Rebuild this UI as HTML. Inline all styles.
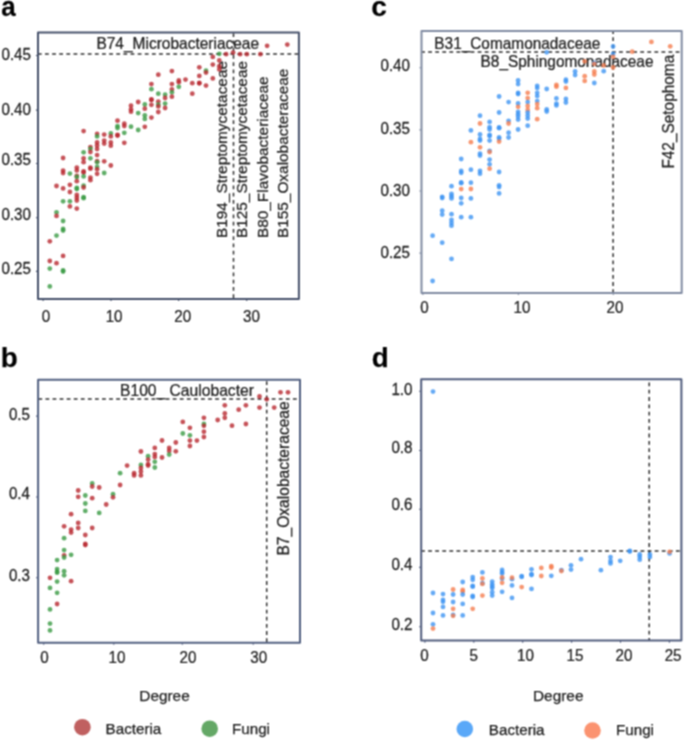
<!DOCTYPE html>
<html><head><meta charset="utf-8"><style>
html,body{margin:0;padding:0;background:#fff;}
body{width:685px;height:747px;overflow:hidden;}
svg{display:block;font-family:"Liberation Sans", sans-serif;}
text{stroke:#1c1c1c;stroke-width:0.25px;}
</style></head><body>
<svg width="685" height="747" viewBox="0 0 685 747">
<defs><filter id="bl" color-interpolation-filters="sRGB" x="0" y="0" width="685" height="747" filterUnits="userSpaceOnUse"><feConvolveMatrix order="3" kernelMatrix="1 2 1 2 4 2 1 2 1" divisor="16" edgeMode="duplicate"/></filter></defs>
<rect width="685" height="747" fill="#fff"/>
<g filter="url(#bl)">
<rect width="685" height="747" fill="#fff"/>
<path d="M38.00 54.0H41.65M44.98 54.0H48.78M52.11 54.0H55.91M59.24 54.0H63.04M66.37 54.0H70.17M73.50 54.0H77.30M80.63 54.0H84.43M87.76 54.0H91.56M94.89 54.0H98.69M102.02 54.0H105.82M109.15 54.0H112.95M116.28 54.0H120.08M123.41 54.0H127.21M130.54 54.0H134.34M137.67 54.0H141.47M144.80 54.0H148.60M151.93 54.0H155.73M159.06 54.0H162.86M166.19 54.0H169.99M173.32 54.0H177.12M180.45 54.0H184.25M187.58 54.0H191.38M194.71 54.0H198.51M201.84 54.0H205.64M208.97 54.0H212.77M216.10 54.0H219.90M223.23 54.0H227.03M230.36 54.0H234.16M237.49 54.0H241.29M244.62 54.0H248.42M251.75 54.0H255.55M258.88 54.0H262.68M266.01 54.0H269.81M273.14 54.0H276.94M280.27 54.0H284.07M287.40 54.0H291.20M294.53 54.0H298.33" stroke="#303030" stroke-width="1.5" fill="none"/>
<path d="M233.5 33.30V37.10M233.5 40.55V44.35M233.5 47.80V51.60M233.5 55.05V58.85M233.5 62.30V66.10M233.5 69.55V73.35M233.5 76.80V80.60M233.5 84.05V87.85M233.5 91.30V95.10M233.5 98.55V102.35M233.5 105.80V109.60M233.5 113.05V116.85M233.5 120.30V124.10M233.5 127.55V131.35M233.5 134.80V138.60M233.5 142.05V145.85M233.5 149.30V153.10M233.5 156.55V160.35M233.5 163.80V167.60M233.5 171.05V174.85M233.5 178.30V182.10M233.5 185.55V189.35M233.5 192.80V196.60M233.5 200.05V203.85M233.5 207.30V211.10M233.5 214.55V218.35M233.5 221.80V225.60M233.5 229.05V232.85M233.5 236.30V240.10M233.5 243.55V247.35M233.5 250.80V254.60M233.5 258.05V261.85M233.5 265.30V269.10M233.5 272.55V276.35M233.5 279.80V283.60M233.5 287.05V290.85M233.5 294.30V298.10" stroke="#303030" stroke-width="1.5" fill="none"/>
<path d="M38.40 398.9H42.20M45.47 398.9H49.27M52.54 398.9H56.34M59.61 398.9H63.41M66.68 398.9H70.48M73.75 398.9H77.55M80.82 398.9H84.62M87.89 398.9H91.69M94.96 398.9H98.76M102.03 398.9H105.83M109.10 398.9H112.90M116.17 398.9H119.97M123.24 398.9H127.04M130.31 398.9H134.11M137.38 398.9H141.18M144.45 398.9H148.25M151.52 398.9H155.32M158.59 398.9H162.39M165.66 398.9H169.46M172.73 398.9H176.53M179.80 398.9H183.60M186.87 398.9H190.67M193.94 398.9H197.74M201.01 398.9H204.81M208.08 398.9H211.88M215.15 398.9H218.95M222.22 398.9H226.02M229.29 398.9H233.09M236.36 398.9H240.16M243.43 398.9H247.23M250.50 398.9H254.30M257.57 398.9H261.37M264.64 398.9H268.44M271.71 398.9H275.51M278.78 398.9H282.58M285.85 398.9H289.65M292.92 398.9H296.72" stroke="#303030" stroke-width="1.5" fill="none"/>
<path d="M266.7 381.20V385.00M266.7 388.34V392.14M266.7 395.48V399.28M266.7 402.62V406.42M266.7 409.76V413.56M266.7 416.90V420.70M266.7 424.04V427.84M266.7 431.18V434.98M266.7 438.32V442.12M266.7 445.46V449.26M266.7 452.60V456.40M266.7 459.74V463.54M266.7 466.88V470.68M266.7 474.02V477.82M266.7 481.16V484.96M266.7 488.30V492.10M266.7 495.44V499.24M266.7 502.58V506.38M266.7 509.72V513.52M266.7 516.86V520.66M266.7 524.00V527.80M266.7 531.14V534.94M266.7 538.28V542.08M266.7 545.42V549.22M266.7 552.56V556.36M266.7 559.70V563.50M266.7 566.84V570.64M266.7 573.98V577.78M266.7 581.12V584.92M266.7 588.26V592.06M266.7 595.40V599.20M266.7 602.54V606.34M266.7 609.68V613.48M266.7 616.82V620.62M266.7 623.96V627.76M266.7 631.10V634.90M266.7 638.24V642.04" stroke="#303030" stroke-width="1.5" fill="none"/>
<path d="M421.50 52.0H424.90M428.17 52.0H431.97M435.24 52.0H439.04M442.31 52.0H446.11M449.38 52.0H453.18M456.45 52.0H460.25M463.52 52.0H467.32M470.59 52.0H474.39M477.66 52.0H481.46M484.73 52.0H488.53M491.80 52.0H495.60M498.87 52.0H502.67M505.94 52.0H509.74M513.01 52.0H516.81M520.08 52.0H523.88M527.15 52.0H530.95M534.22 52.0H538.02M541.29 52.0H545.09M548.36 52.0H552.16M555.43 52.0H559.23M562.50 52.0H566.30M569.57 52.0H573.37M576.64 52.0H580.44M583.71 52.0H587.51M590.78 52.0H594.58M597.85 52.0H601.65M604.92 52.0H608.72M611.99 52.0H615.79M619.06 52.0H622.86M626.13 52.0H629.93M633.20 52.0H637.00M640.27 52.0H644.07M647.34 52.0H651.14M654.41 52.0H658.21M661.48 52.0H665.28M668.55 52.0H672.35M675.62 52.0H679.42" stroke="#303030" stroke-width="1.5" fill="none"/>
<path d="M613.1 30.90V33.90M613.1 37.30V41.10M613.1 44.50V48.30M613.1 51.70V55.50M613.1 58.90V62.70M613.1 66.10V69.90M613.1 73.30V77.10M613.1 80.50V84.30M613.1 87.70V91.50M613.1 94.90V98.70M613.1 102.10V105.90M613.1 109.30V113.10M613.1 116.50V120.30M613.1 123.70V127.50M613.1 130.90V134.70M613.1 138.10V141.90M613.1 145.30V149.10M613.1 152.50V156.30M613.1 159.70V163.50M613.1 166.90V170.70M613.1 174.10V177.90M613.1 181.30V185.10M613.1 188.50V192.30M613.1 195.70V199.50M613.1 202.90V206.70M613.1 210.10V213.90M613.1 217.30V221.10M613.1 224.50V228.30M613.1 231.70V235.50M613.1 238.90V242.70M613.1 246.10V249.90M613.1 253.30V257.10M613.1 260.50V264.30M613.1 267.70V271.50M613.1 274.90V278.70M613.1 282.10V285.90M613.1 289.30V292.90" stroke="#303030" stroke-width="1.5" fill="none"/>
<path d="M421.20 551.1H424.86M428.14 551.1H431.94M435.22 551.1H439.02M442.30 551.1H446.10M449.38 551.1H453.18M456.46 551.1H460.26M463.54 551.1H467.34M470.62 551.1H474.42M477.70 551.1H481.50M484.78 551.1H488.58M491.86 551.1H495.66M498.94 551.1H502.74M506.02 551.1H509.82M513.10 551.1H516.90M520.18 551.1H523.98M527.26 551.1H531.06M534.34 551.1H538.14M541.42 551.1H545.22M548.50 551.1H552.30M555.58 551.1H559.38M562.66 551.1H566.46M569.74 551.1H573.54M576.82 551.1H580.62M583.90 551.1H587.70M590.98 551.1H594.78M598.06 551.1H601.86M605.14 551.1H608.94M612.22 551.1H616.02M619.30 551.1H623.10M626.38 551.1H630.18M633.46 551.1H637.26M640.54 551.1H644.34M647.62 551.1H651.42M654.70 551.1H658.50M661.78 551.1H665.58M668.86 551.1H672.66M675.94 551.1H679.74" stroke="#303030" stroke-width="1.5" fill="none"/>
<path d="M649.2 382.50V386.30M649.2 389.80V393.60M649.2 397.10V400.90M649.2 404.40V408.20M649.2 411.70V415.50M649.2 419.00V422.80M649.2 426.30V430.10M649.2 433.60V437.40M649.2 440.90V444.70M649.2 448.20V452.00M649.2 455.50V459.30M649.2 462.80V466.60M649.2 470.10V473.90M649.2 477.40V481.20M649.2 484.70V488.50M649.2 492.00V495.80M649.2 499.30V503.10M649.2 506.60V510.40M649.2 513.90V517.70M649.2 521.20V525.00M649.2 528.50V532.30M649.2 535.80V539.60M649.2 543.10V546.90M649.2 550.40V554.20M649.2 557.70V561.50M649.2 565.00V568.80M649.2 572.30V576.10M649.2 579.60V583.40M649.2 586.90V590.70M649.2 594.20V598.00M649.2 601.50V605.30M649.2 608.80V612.60M649.2 616.10V619.90M649.2 623.40V627.20M649.2 630.70V634.50M649.2 638.00V640.60" stroke="#303030" stroke-width="1.5" fill="none"/>
<rect x="38.0" y="32.5" width="260.90" height="266.50" fill="none" stroke="#45506a" stroke-width="2" stroke-linejoin="round"/>
<rect x="38.1" y="379.7" width="261.90" height="263.00" fill="none" stroke="#515f80" stroke-width="2" stroke-linejoin="round"/>
<rect x="421.5" y="30.9" width="260.20" height="262.00" fill="none" stroke="#808ba2" stroke-width="2" stroke-linejoin="round"/>
<rect x="421.2" y="379.3" width="260.20" height="261.30" fill="none" stroke="#4f5b7c" stroke-width="2" stroke-linejoin="round"/>
<path d="M37.5 55.5h-1.6M37.5 110.1h-1.6M37.5 163.5h-1.6M37.5 217.7h-1.6M37.5 271.4h-1.6M43.1 299.5v1.6M111.0 299.5v1.6M178.6 299.5v1.6M246.7 299.5v1.6" stroke="#45506a" stroke-width="1.1" fill="none"/>
<path d="M37.6 416.1h-1.6M37.6 497.0h-1.6M37.6 577.7h-1.6M43.7 643.2v1.6M113.8 643.2v1.6M182.3 643.2v1.6M253.2 643.2v1.6" stroke="#515f80" stroke-width="1.1" fill="none"/>
<path d="M421.0 67.8h-1.6M421.0 129.9h-1.6M421.0 191.0h-1.6M421.0 253.1h-1.6M422.9 293.4v1.6M518.4 293.4v1.6M613.3 293.4v1.6" stroke="#808ba2" stroke-width="1.1" fill="none"/>
<path d="M420.7 391.3h-1.6M420.7 450.5h-1.6M420.7 509.2h-1.6M420.7 567.4h-1.6M420.7 626.8h-1.6M424.9 641.1v1.6M473.8 641.1v1.6M522.7 641.1v1.6M571.6 641.1v1.6M620.5 641.1v1.6M669.4 641.1v1.6" stroke="#4f5b7c" stroke-width="1.1" fill="none"/>
<text transform="translate(1.2 15.6) scale(0.9615 1)" font-size="27.04" text-anchor="start" font-weight="bold" fill="#000">a</text>
<text transform="translate(0.8 366.8) scale(1.0000 1)" font-size="27.80" text-anchor="start" font-weight="bold" fill="#000">b</text>
<text transform="translate(371.3 16.2) scale(1.0000 1)" font-size="28.00" text-anchor="start" font-weight="bold" fill="#000">c</text>
<text transform="translate(371.8 366.65) scale(1.0000 1)" font-size="27.80" text-anchor="start" font-weight="bold" fill="#000">d</text>
<text transform="translate(31.0 59.5) scale(0.9756 1)" font-size="15.58" text-anchor="end" font-weight="normal" fill="#1c1c1c">0.45</text>
<text transform="translate(31.0 114.5) scale(0.9756 1)" font-size="15.58" text-anchor="end" font-weight="normal" fill="#1c1c1c">0.40</text>
<text transform="translate(31.0 165.29999999999998) scale(0.9756 1)" font-size="15.58" text-anchor="end" font-weight="normal" fill="#1c1c1c">0.35</text>
<text transform="translate(31.0 219.5) scale(0.9756 1)" font-size="15.58" text-anchor="end" font-weight="normal" fill="#1c1c1c">0.30</text>
<text transform="translate(31.0 274.2) scale(0.9756 1)" font-size="15.58" text-anchor="end" font-weight="normal" fill="#1c1c1c">0.25</text>
<text transform="translate(30.0 419.5) scale(0.9756 1)" font-size="15.58" text-anchor="end" font-weight="normal" fill="#1c1c1c">0.5</text>
<text transform="translate(30.0 499.2) scale(0.9756 1)" font-size="15.58" text-anchor="end" font-weight="normal" fill="#1c1c1c">0.4</text>
<text transform="translate(30.0 581.2) scale(0.9756 1)" font-size="15.58" text-anchor="end" font-weight="normal" fill="#1c1c1c">0.3</text>
<text transform="translate(410.0 71.3) scale(0.9756 1)" font-size="15.58" text-anchor="end" font-weight="normal" fill="#1c1c1c">0.40</text>
<text transform="translate(410.0 133.6) scale(0.9756 1)" font-size="15.58" text-anchor="end" font-weight="normal" fill="#1c1c1c">0.35</text>
<text transform="translate(410.0 196.0) scale(0.9756 1)" font-size="15.58" text-anchor="end" font-weight="normal" fill="#1c1c1c">0.30</text>
<text transform="translate(410.0 258.4) scale(0.9756 1)" font-size="15.58" text-anchor="end" font-weight="normal" fill="#1c1c1c">0.25</text>
<text transform="translate(412.5 395.0) scale(0.9756 1)" font-size="15.58" text-anchor="end" font-weight="normal" fill="#1c1c1c">1.0</text>
<text transform="translate(412.5 452.5) scale(0.9756 1)" font-size="15.58" text-anchor="end" font-weight="normal" fill="#1c1c1c">0.8</text>
<text transform="translate(412.5 510.2) scale(0.9756 1)" font-size="15.58" text-anchor="end" font-weight="normal" fill="#1c1c1c">0.6</text>
<text transform="translate(412.5 569.9000000000001) scale(0.9756 1)" font-size="15.58" text-anchor="end" font-weight="normal" fill="#1c1c1c">0.4</text>
<text transform="translate(412.5 629.9000000000001) scale(0.9756 1)" font-size="15.58" text-anchor="end" font-weight="normal" fill="#1c1c1c">0.2</text>
<text transform="translate(46.0 321.6) scale(0.9434 1)" font-size="16.11" text-anchor="middle" font-weight="normal" fill="#1c1c1c">0</text>
<text transform="translate(114.1 321.6) scale(0.9434 1)" font-size="16.11" text-anchor="middle" font-weight="normal" fill="#1c1c1c">10</text>
<text transform="translate(182.7 321.6) scale(0.9434 1)" font-size="16.11" text-anchor="middle" font-weight="normal" fill="#1c1c1c">20</text>
<text transform="translate(251.5 321.6) scale(0.9434 1)" font-size="16.11" text-anchor="middle" font-weight="normal" fill="#1c1c1c">30</text>
<text transform="translate(44.4 663.4) scale(0.9434 1)" font-size="16.11" text-anchor="middle" font-weight="normal" fill="#1c1c1c">0</text>
<text transform="translate(117.0 663.4) scale(0.9434 1)" font-size="16.11" text-anchor="middle" font-weight="normal" fill="#1c1c1c">10</text>
<text transform="translate(188.0 663.4) scale(0.9434 1)" font-size="16.11" text-anchor="middle" font-weight="normal" fill="#1c1c1c">20</text>
<text transform="translate(258.7 663.4) scale(0.9434 1)" font-size="16.11" text-anchor="middle" font-weight="normal" fill="#1c1c1c">30</text>
<text transform="translate(424.5 313.40000000000003) scale(0.9434 1)" font-size="16.11" text-anchor="middle" font-weight="normal" fill="#1c1c1c">0</text>
<text transform="translate(521.9 313.40000000000003) scale(0.9434 1)" font-size="16.11" text-anchor="middle" font-weight="normal" fill="#1c1c1c">10</text>
<text transform="translate(614.9 313.40000000000003) scale(0.9434 1)" font-size="16.11" text-anchor="middle" font-weight="normal" fill="#1c1c1c">20</text>
<text transform="translate(424.5 660.6) scale(0.9434 1)" font-size="16.11" text-anchor="middle" font-weight="normal" fill="#1c1c1c">0</text>
<text transform="translate(473.8 660.6) scale(0.9434 1)" font-size="16.11" text-anchor="middle" font-weight="normal" fill="#1c1c1c">5</text>
<text transform="translate(525.5 660.6) scale(0.9434 1)" font-size="16.11" text-anchor="middle" font-weight="normal" fill="#1c1c1c">10</text>
<text transform="translate(575.0 660.6) scale(0.9434 1)" font-size="16.11" text-anchor="middle" font-weight="normal" fill="#1c1c1c">15</text>
<text transform="translate(623.9 660.6) scale(0.9434 1)" font-size="16.11" text-anchor="middle" font-weight="normal" fill="#1c1c1c">20</text>
<text transform="translate(673.1 660.6) scale(0.9434 1)" font-size="16.11" text-anchor="middle" font-weight="normal" fill="#1c1c1c">25</text>
<text transform="translate(96.4 49.3) scale(0.9709 1)" font-size="15.96" text-anchor="start" font-weight="normal" fill="#1c1c1c">B74_Microbacteriaceae</text>
<text transform="translate(226.6 238.1) rotate(-90) scale(1.0000 1)" font-size="15.40" text-anchor="start" font-weight="normal" fill="#1c1c1c">B194_Streptomycetaceae</text>
<text transform="translate(247.0 238.1) rotate(-90) scale(1.0000 1)" font-size="15.40" text-anchor="start" font-weight="normal" fill="#1c1c1c">B125_Streptomycetaceae</text>
<text transform="translate(268.0 238.1) rotate(-90) scale(1.0000 1)" font-size="15.40" text-anchor="start" font-weight="normal" fill="#1c1c1c">B80_Flavobacteriaceae</text>
<text transform="translate(288.4 238.1) rotate(-90) scale(1.0000 1)" font-size="15.40" text-anchor="start" font-weight="normal" fill="#1c1c1c">B155_Oxalobacteraceae</text>
<text transform="translate(120.0 396.3) scale(0.9709 1)" font-size="16.12" text-anchor="start" font-weight="normal" fill="#1c1c1c">B100_ Caulobacter</text>
<text transform="translate(289.4 555.6) rotate(-90) scale(0.9709 1)" font-size="16.07" text-anchor="start" font-weight="normal" fill="#1c1c1c">B7_Oxalobacteraceae</text>
<text transform="translate(434.3 48.9) scale(0.9709 1)" font-size="15.86" text-anchor="start" font-weight="normal" fill="#1c1c1c">B31_Comamonadaceae</text>
<text transform="translate(480.6 67.0) scale(0.9709 1)" font-size="15.86" text-anchor="start" font-weight="normal" fill="#1c1c1c">B8_Sphingomonadaceae</text>
<text transform="translate(673.8 168.6) rotate(-90) scale(0.9709 1)" font-size="15.86" text-anchor="start" font-weight="normal" fill="#1c1c1c">F42_Setophoma</text>
<text transform="translate(164.5 701.0) scale(1.0000 1)" font-size="15.40" text-anchor="middle" font-weight="normal" fill="#1c1c1c">Degree</text>
<text transform="translate(558.2 701.3) scale(1.0000 1)" font-size="15.40" text-anchor="middle" font-weight="normal" fill="#1c1c1c">Degree</text>
<circle cx="82.4" cy="727.2" r="8.3" fill="#c06060" fill-opacity="1.0"/>
<text transform="translate(105.6 733.6) scale(1.0000 1)" font-size="15.20" text-anchor="start" font-weight="normal" fill="#1c1c1c">Bacteria</text>
<circle cx="209.7" cy="728.7" r="8.3" fill="#64a866" fill-opacity="1.0"/>
<text transform="translate(232.0 734.0) scale(1.0000 1)" font-size="15.20" text-anchor="start" font-weight="normal" fill="#1c1c1c">Fungi</text>
<circle cx="464.8" cy="729.0" r="8.3" fill="#5aa8f8" fill-opacity="1.0"/>
<text transform="translate(488.8 735.0) scale(1.0000 1)" font-size="15.20" text-anchor="start" font-weight="normal" fill="#1c1c1c">Bacteria</text>
<circle cx="592.5" cy="730.5" r="8.3" fill="#fb9370" fill-opacity="1.0"/>
<text transform="translate(616.0 735.0) scale(1.0000 1)" font-size="15.20" text-anchor="start" font-weight="normal" fill="#1c1c1c">Fungi</text>
<circle cx="49.8" cy="241.3" r="2.4" fill="#b82830" fill-opacity="0.8"/>
<circle cx="49.8" cy="261.0" r="2.4" fill="#b82830" fill-opacity="0.8"/>
<circle cx="49.8" cy="268.6" r="2.4" fill="#3a9a44" fill-opacity="0.8"/>
<circle cx="49.8" cy="286.4" r="2.4" fill="#3a9a44" fill-opacity="0.8"/>
<circle cx="56.5" cy="186.0" r="2.4" fill="#b82830" fill-opacity="0.8"/>
<circle cx="56.5" cy="212.3" r="2.4" fill="#3a9a44" fill-opacity="0.8"/>
<circle cx="56.5" cy="215.9" r="2.4" fill="#b82830" fill-opacity="0.8"/>
<circle cx="56.5" cy="235.6" r="2.4" fill="#3a9a44" fill-opacity="0.8"/>
<circle cx="56.5" cy="263.2" r="2.4" fill="#b82830" fill-opacity="0.8"/>
<circle cx="63.1" cy="158.0" r="2.4" fill="#b82830" fill-opacity="0.8"/>
<circle cx="63.1" cy="170.6" r="2.4" fill="#b82830" fill-opacity="0.8"/>
<circle cx="63.1" cy="173.0" r="2.4" fill="#b82830" fill-opacity="0.8"/>
<circle cx="63.1" cy="188.4" r="2.4" fill="#b82830" fill-opacity="0.8"/>
<circle cx="63.1" cy="201.3" r="2.4" fill="#3a9a44" fill-opacity="0.8"/>
<circle cx="63.1" cy="221.0" r="2.4" fill="#3a9a44" fill-opacity="0.8"/>
<circle cx="63.1" cy="229.0" r="2.4" fill="#3a9a44" fill-opacity="0.8"/>
<circle cx="63.1" cy="230.5" r="2.4" fill="#3a9a44" fill-opacity="0.8"/>
<circle cx="63.1" cy="255.9" r="2.4" fill="#b82830" fill-opacity="0.8"/>
<circle cx="63.1" cy="270.5" r="2.4" fill="#3a9a44" fill-opacity="0.8"/>
<circle cx="63.1" cy="271.5" r="2.4" fill="#3a9a44" fill-opacity="0.8"/>
<circle cx="69.9" cy="173.6" r="2.4" fill="#3a9a44" fill-opacity="0.8"/>
<circle cx="69.9" cy="184.8" r="2.4" fill="#b82830" fill-opacity="0.8"/>
<circle cx="69.9" cy="192.0" r="2.4" fill="#b82830" fill-opacity="0.8"/>
<circle cx="69.9" cy="201.3" r="2.4" fill="#3a9a44" fill-opacity="0.8"/>
<circle cx="69.9" cy="206.4" r="2.4" fill="#b82830" fill-opacity="0.8"/>
<circle cx="76.8" cy="167.6" r="2.4" fill="#b82830" fill-opacity="0.8"/>
<circle cx="76.8" cy="170.4" r="2.4" fill="#b82830" fill-opacity="0.8"/>
<circle cx="76.8" cy="176.0" r="2.4" fill="#b82830" fill-opacity="0.8"/>
<circle cx="76.8" cy="177.0" r="2.4" fill="#3a9a44" fill-opacity="0.8"/>
<circle cx="76.8" cy="181.2" r="2.4" fill="#b82830" fill-opacity="0.8"/>
<circle cx="76.8" cy="188.0" r="2.4" fill="#3a9a44" fill-opacity="0.8"/>
<circle cx="76.8" cy="189.0" r="2.4" fill="#3a9a44" fill-opacity="0.8"/>
<circle cx="76.8" cy="195.0" r="2.4" fill="#b82830" fill-opacity="0.8"/>
<circle cx="76.8" cy="197.7" r="2.4" fill="#b82830" fill-opacity="0.8"/>
<circle cx="76.8" cy="200.5" r="2.4" fill="#b82830" fill-opacity="0.8"/>
<circle cx="76.8" cy="208.6" r="2.4" fill="#b82830" fill-opacity="0.8"/>
<circle cx="83.6" cy="131.1" r="2.4" fill="#b82830" fill-opacity="0.8"/>
<circle cx="83.6" cy="152.3" r="2.4" fill="#3a9a44" fill-opacity="0.8"/>
<circle cx="83.6" cy="158.3" r="2.4" fill="#b82830" fill-opacity="0.8"/>
<circle cx="83.6" cy="162.2" r="2.4" fill="#b82830" fill-opacity="0.8"/>
<circle cx="83.6" cy="171.5" r="2.4" fill="#b82830" fill-opacity="0.8"/>
<circle cx="83.6" cy="172.5" r="2.4" fill="#b82830" fill-opacity="0.8"/>
<circle cx="83.6" cy="176.4" r="2.4" fill="#3a9a44" fill-opacity="0.8"/>
<circle cx="83.6" cy="185.7" r="2.4" fill="#3a9a44" fill-opacity="0.8"/>
<circle cx="83.6" cy="187.5" r="2.4" fill="#b82830" fill-opacity="0.8"/>
<circle cx="83.6" cy="197.2" r="2.4" fill="#3a9a44" fill-opacity="0.8"/>
<circle cx="83.6" cy="198.2" r="2.4" fill="#3a9a44" fill-opacity="0.8"/>
<circle cx="90.4" cy="147.1" r="2.4" fill="#b82830" fill-opacity="0.8"/>
<circle cx="90.4" cy="148.9" r="2.4" fill="#3a9a44" fill-opacity="0.8"/>
<circle cx="90.4" cy="152.0" r="2.4" fill="#b82830" fill-opacity="0.8"/>
<circle cx="90.4" cy="158.3" r="2.4" fill="#3a9a44" fill-opacity="0.8"/>
<circle cx="90.4" cy="167.7" r="2.4" fill="#b82830" fill-opacity="0.8"/>
<circle cx="90.4" cy="168.7" r="2.4" fill="#b82830" fill-opacity="0.8"/>
<circle cx="90.4" cy="177.6" r="2.4" fill="#b82830" fill-opacity="0.8"/>
<circle cx="90.4" cy="180.2" r="2.4" fill="#b82830" fill-opacity="0.8"/>
<circle cx="97.1" cy="134.0" r="2.4" fill="#b82830" fill-opacity="0.8"/>
<circle cx="97.1" cy="136.4" r="2.4" fill="#3a9a44" fill-opacity="0.8"/>
<circle cx="97.1" cy="142.4" r="2.4" fill="#b82830" fill-opacity="0.8"/>
<circle cx="97.1" cy="145.4" r="2.4" fill="#b82830" fill-opacity="0.8"/>
<circle cx="97.1" cy="149.0" r="2.4" fill="#b82830" fill-opacity="0.8"/>
<circle cx="97.1" cy="155.1" r="2.4" fill="#b82830" fill-opacity="0.8"/>
<circle cx="97.1" cy="161.2" r="2.4" fill="#b82830" fill-opacity="0.8"/>
<circle cx="97.1" cy="162.3" r="2.4" fill="#3a9a44" fill-opacity="0.8"/>
<circle cx="97.1" cy="167.0" r="2.4" fill="#3a9a44" fill-opacity="0.8"/>
<circle cx="97.1" cy="169.3" r="2.4" fill="#b82830" fill-opacity="0.8"/>
<circle cx="97.1" cy="173.8" r="2.4" fill="#b82830" fill-opacity="0.8"/>
<circle cx="104.2" cy="134.6" r="2.4" fill="#b82830" fill-opacity="0.8"/>
<circle cx="104.2" cy="140.6" r="2.4" fill="#b82830" fill-opacity="0.8"/>
<circle cx="104.2" cy="143.6" r="2.4" fill="#b82830" fill-opacity="0.8"/>
<circle cx="104.2" cy="161.3" r="2.4" fill="#b82830" fill-opacity="0.8"/>
<circle cx="104.2" cy="173.0" r="2.4" fill="#3a9a44" fill-opacity="0.8"/>
<circle cx="110.8" cy="133.4" r="2.4" fill="#3a9a44" fill-opacity="0.8"/>
<circle cx="110.8" cy="136.4" r="2.4" fill="#b82830" fill-opacity="0.8"/>
<circle cx="110.8" cy="142.4" r="2.4" fill="#b82830" fill-opacity="0.8"/>
<circle cx="110.8" cy="145.7" r="2.4" fill="#b82830" fill-opacity="0.8"/>
<circle cx="110.8" cy="165.5" r="2.4" fill="#b82830" fill-opacity="0.8"/>
<circle cx="117.5" cy="120.7" r="2.4" fill="#b82830" fill-opacity="0.8"/>
<circle cx="117.5" cy="126.1" r="2.4" fill="#3a9a44" fill-opacity="0.8"/>
<circle cx="117.5" cy="128.0" r="2.4" fill="#3a9a44" fill-opacity="0.8"/>
<circle cx="117.5" cy="135.0" r="2.4" fill="#b82830" fill-opacity="0.8"/>
<circle cx="117.5" cy="135.5" r="2.4" fill="#b82830" fill-opacity="0.8"/>
<circle cx="124.3" cy="123.7" r="2.4" fill="#b82830" fill-opacity="0.8"/>
<circle cx="124.3" cy="126.1" r="2.4" fill="#b82830" fill-opacity="0.8"/>
<circle cx="124.3" cy="132.8" r="2.4" fill="#3a9a44" fill-opacity="0.8"/>
<circle cx="124.3" cy="142.8" r="2.4" fill="#b82830" fill-opacity="0.8"/>
<circle cx="131.0" cy="105.7" r="2.4" fill="#b82830" fill-opacity="0.8"/>
<circle cx="131.0" cy="109.3" r="2.4" fill="#b82830" fill-opacity="0.8"/>
<circle cx="131.0" cy="111.7" r="2.4" fill="#b82830" fill-opacity="0.8"/>
<circle cx="131.0" cy="126.7" r="2.4" fill="#3a9a44" fill-opacity="0.8"/>
<circle cx="138.2" cy="102.0" r="2.4" fill="#b82830" fill-opacity="0.8"/>
<circle cx="138.2" cy="113.1" r="2.4" fill="#3a9a44" fill-opacity="0.8"/>
<circle cx="138.2" cy="130.0" r="2.4" fill="#3a9a44" fill-opacity="0.8"/>
<circle cx="144.8" cy="104.5" r="2.4" fill="#3a9a44" fill-opacity="0.8"/>
<circle cx="144.8" cy="108.7" r="2.4" fill="#b82830" fill-opacity="0.8"/>
<circle cx="144.8" cy="115.3" r="2.4" fill="#3a9a44" fill-opacity="0.8"/>
<circle cx="144.8" cy="118.9" r="2.4" fill="#3a9a44" fill-opacity="0.8"/>
<circle cx="144.8" cy="126.8" r="2.4" fill="#b82830" fill-opacity="0.8"/>
<circle cx="151.4" cy="84.1" r="2.4" fill="#b82830" fill-opacity="0.8"/>
<circle cx="151.4" cy="89.2" r="2.4" fill="#3a9a44" fill-opacity="0.8"/>
<circle cx="151.4" cy="99.5" r="2.4" fill="#b82830" fill-opacity="0.8"/>
<circle cx="151.4" cy="100.0" r="2.4" fill="#b82830" fill-opacity="0.8"/>
<circle cx="151.4" cy="104.8" r="2.4" fill="#b82830" fill-opacity="0.8"/>
<circle cx="151.4" cy="117.6" r="2.4" fill="#b82830" fill-opacity="0.8"/>
<circle cx="158.3" cy="74.7" r="2.4" fill="#b82830" fill-opacity="0.8"/>
<circle cx="158.3" cy="93.7" r="2.4" fill="#3a9a44" fill-opacity="0.8"/>
<circle cx="158.3" cy="101.6" r="2.4" fill="#b82830" fill-opacity="0.8"/>
<circle cx="158.3" cy="104.6" r="2.4" fill="#3a9a44" fill-opacity="0.8"/>
<circle cx="158.3" cy="106.4" r="2.4" fill="#b82830" fill-opacity="0.8"/>
<circle cx="158.3" cy="112.0" r="2.4" fill="#b82830" fill-opacity="0.8"/>
<circle cx="165.1" cy="94.7" r="2.4" fill="#3a9a44" fill-opacity="0.8"/>
<circle cx="165.1" cy="98.0" r="2.4" fill="#b82830" fill-opacity="0.8"/>
<circle cx="165.1" cy="103.6" r="2.4" fill="#3a9a44" fill-opacity="0.8"/>
<circle cx="165.1" cy="108.0" r="2.4" fill="#b82830" fill-opacity="0.8"/>
<circle cx="171.9" cy="71.1" r="2.4" fill="#b82830" fill-opacity="0.8"/>
<circle cx="171.9" cy="84.1" r="2.4" fill="#b82830" fill-opacity="0.8"/>
<circle cx="171.9" cy="89.5" r="2.4" fill="#b82830" fill-opacity="0.8"/>
<circle cx="171.9" cy="92.3" r="2.4" fill="#3a9a44" fill-opacity="0.8"/>
<circle cx="171.9" cy="96.7" r="2.4" fill="#b82830" fill-opacity="0.8"/>
<circle cx="178.8" cy="80.5" r="2.4" fill="#b82830" fill-opacity="0.8"/>
<circle cx="178.8" cy="82.3" r="2.4" fill="#b82830" fill-opacity="0.8"/>
<circle cx="178.8" cy="86.8" r="2.4" fill="#3a9a44" fill-opacity="0.8"/>
<circle cx="185.5" cy="79.6" r="2.4" fill="#b82830" fill-opacity="0.8"/>
<circle cx="192.3" cy="83.2" r="2.4" fill="#b82830" fill-opacity="0.8"/>
<circle cx="192.3" cy="93.7" r="2.4" fill="#b82830" fill-opacity="0.8"/>
<circle cx="199.3" cy="67.3" r="2.4" fill="#b82830" fill-opacity="0.8"/>
<circle cx="199.3" cy="75.9" r="2.4" fill="#b82830" fill-opacity="0.8"/>
<circle cx="199.3" cy="83.0" r="2.4" fill="#b82830" fill-opacity="0.8"/>
<circle cx="199.3" cy="83.3" r="2.4" fill="#b82830" fill-opacity="0.8"/>
<circle cx="206.0" cy="70.7" r="2.4" fill="#3a9a44" fill-opacity="0.8"/>
<circle cx="206.0" cy="72.6" r="2.4" fill="#b82830" fill-opacity="0.8"/>
<circle cx="206.0" cy="85.6" r="2.4" fill="#b82830" fill-opacity="0.8"/>
<circle cx="212.8" cy="56.9" r="2.4" fill="#b82830" fill-opacity="0.8"/>
<circle cx="212.8" cy="64.6" r="2.4" fill="#b82830" fill-opacity="0.8"/>
<circle cx="212.8" cy="78.4" r="2.4" fill="#b82830" fill-opacity="0.8"/>
<circle cx="219.3" cy="53.8" r="2.4" fill="#3a9a44" fill-opacity="0.8"/>
<circle cx="219.3" cy="60.5" r="2.4" fill="#b82830" fill-opacity="0.8"/>
<circle cx="219.3" cy="66.2" r="2.4" fill="#b82830" fill-opacity="0.8"/>
<circle cx="219.3" cy="69.4" r="2.4" fill="#b82830" fill-opacity="0.8"/>
<circle cx="226.1" cy="54.2" r="2.4" fill="#b82830" fill-opacity="0.8"/>
<circle cx="233.1" cy="52.6" r="2.4" fill="#b82830" fill-opacity="0.8"/>
<circle cx="240.1" cy="54.2" r="2.4" fill="#b82830" fill-opacity="0.8"/>
<circle cx="246.8" cy="54.2" r="2.4" fill="#b82830" fill-opacity="0.8"/>
<circle cx="260.4" cy="54.2" r="2.4" fill="#b82830" fill-opacity="0.8"/>
<circle cx="267.1" cy="45.8" r="2.4" fill="#b82830" fill-opacity="0.8"/>
<circle cx="287.3" cy="44.6" r="2.4" fill="#b82830" fill-opacity="0.8"/>
<circle cx="50.0" cy="577.8" r="2.4" fill="#b82830" fill-opacity="0.8"/>
<circle cx="50.0" cy="587.9" r="2.4" fill="#3a9a44" fill-opacity="0.8"/>
<circle cx="50.0" cy="609.4" r="2.4" fill="#3a9a44" fill-opacity="0.8"/>
<circle cx="50.0" cy="623.6" r="2.4" fill="#3a9a44" fill-opacity="0.8"/>
<circle cx="50.0" cy="630.4" r="2.4" fill="#3a9a44" fill-opacity="0.8"/>
<circle cx="57.1" cy="560.1" r="2.4" fill="#3a9a44" fill-opacity="0.8"/>
<circle cx="57.1" cy="569.1" r="2.4" fill="#3a9a44" fill-opacity="0.8"/>
<circle cx="57.1" cy="571.7" r="2.4" fill="#3a9a44" fill-opacity="0.8"/>
<circle cx="57.1" cy="572.7" r="2.4" fill="#3a9a44" fill-opacity="0.8"/>
<circle cx="57.1" cy="581.6" r="2.4" fill="#3a9a44" fill-opacity="0.8"/>
<circle cx="57.1" cy="592.8" r="2.4" fill="#3a9a44" fill-opacity="0.8"/>
<circle cx="57.1" cy="604.0" r="2.4" fill="#b82830" fill-opacity="0.8"/>
<circle cx="64.1" cy="526.3" r="2.4" fill="#b82830" fill-opacity="0.8"/>
<circle cx="64.1" cy="538.2" r="2.4" fill="#3a9a44" fill-opacity="0.8"/>
<circle cx="64.1" cy="550.1" r="2.4" fill="#3a9a44" fill-opacity="0.8"/>
<circle cx="64.1" cy="555.3" r="2.4" fill="#b82830" fill-opacity="0.8"/>
<circle cx="64.1" cy="557.5" r="2.4" fill="#3a9a44" fill-opacity="0.8"/>
<circle cx="64.1" cy="571.2" r="2.4" fill="#3a9a44" fill-opacity="0.8"/>
<circle cx="64.1" cy="575.3" r="2.4" fill="#3a9a44" fill-opacity="0.8"/>
<circle cx="71.1" cy="514.2" r="2.4" fill="#b82830" fill-opacity="0.8"/>
<circle cx="71.1" cy="529.6" r="2.4" fill="#b82830" fill-opacity="0.8"/>
<circle cx="71.1" cy="532.6" r="2.4" fill="#b82830" fill-opacity="0.8"/>
<circle cx="71.1" cy="554.8" r="2.4" fill="#3a9a44" fill-opacity="0.8"/>
<circle cx="71.1" cy="581.2" r="2.4" fill="#b82830" fill-opacity="0.8"/>
<circle cx="78.2" cy="490.5" r="2.4" fill="#b82830" fill-opacity="0.8"/>
<circle cx="78.2" cy="496.8" r="2.4" fill="#b82830" fill-opacity="0.8"/>
<circle cx="78.2" cy="522.9" r="2.4" fill="#b82830" fill-opacity="0.8"/>
<circle cx="78.2" cy="528.0" r="2.4" fill="#b82830" fill-opacity="0.8"/>
<circle cx="85.3" cy="495.5" r="2.4" fill="#3a9a44" fill-opacity="0.8"/>
<circle cx="85.3" cy="503.5" r="2.4" fill="#3a9a44" fill-opacity="0.8"/>
<circle cx="85.3" cy="510.9" r="2.4" fill="#3a9a44" fill-opacity="0.8"/>
<circle cx="85.3" cy="535.0" r="2.4" fill="#b82830" fill-opacity="0.8"/>
<circle cx="85.3" cy="544.0" r="2.4" fill="#b82830" fill-opacity="0.8"/>
<circle cx="85.3" cy="545.0" r="2.4" fill="#b82830" fill-opacity="0.8"/>
<circle cx="92.2" cy="483.4" r="2.4" fill="#3a9a44" fill-opacity="0.8"/>
<circle cx="92.2" cy="486.5" r="2.4" fill="#b82830" fill-opacity="0.8"/>
<circle cx="92.2" cy="498.2" r="2.4" fill="#b82830" fill-opacity="0.8"/>
<circle cx="92.2" cy="528.0" r="2.4" fill="#b82830" fill-opacity="0.8"/>
<circle cx="99.2" cy="487.5" r="2.4" fill="#b82830" fill-opacity="0.8"/>
<circle cx="99.2" cy="512.9" r="2.4" fill="#3a9a44" fill-opacity="0.8"/>
<circle cx="106.2" cy="504.5" r="2.4" fill="#b82830" fill-opacity="0.8"/>
<circle cx="113.0" cy="494.2" r="2.4" fill="#3a9a44" fill-opacity="0.8"/>
<circle cx="113.0" cy="497.3" r="2.4" fill="#b82830" fill-opacity="0.8"/>
<circle cx="120.1" cy="473.2" r="2.4" fill="#3a9a44" fill-opacity="0.8"/>
<circle cx="120.1" cy="485.0" r="2.4" fill="#b82830" fill-opacity="0.8"/>
<circle cx="127.1" cy="465.6" r="2.4" fill="#b82830" fill-opacity="0.8"/>
<circle cx="134.1" cy="473.2" r="2.4" fill="#b82830" fill-opacity="0.8"/>
<circle cx="134.1" cy="475.4" r="2.4" fill="#b82830" fill-opacity="0.8"/>
<circle cx="140.9" cy="451.5" r="2.4" fill="#b82830" fill-opacity="0.8"/>
<circle cx="140.9" cy="465.0" r="2.4" fill="#3a9a44" fill-opacity="0.8"/>
<circle cx="140.9" cy="467.9" r="2.4" fill="#b82830" fill-opacity="0.8"/>
<circle cx="140.9" cy="471.6" r="2.4" fill="#b82830" fill-opacity="0.8"/>
<circle cx="140.9" cy="475.4" r="2.4" fill="#b82830" fill-opacity="0.8"/>
<circle cx="148.1" cy="456.2" r="2.4" fill="#3a9a44" fill-opacity="0.8"/>
<circle cx="148.1" cy="459.6" r="2.4" fill="#b82830" fill-opacity="0.8"/>
<circle cx="148.1" cy="464.2" r="2.4" fill="#b82830" fill-opacity="0.8"/>
<circle cx="148.1" cy="465.6" r="2.4" fill="#b82830" fill-opacity="0.8"/>
<circle cx="154.8" cy="447.9" r="2.4" fill="#b82830" fill-opacity="0.8"/>
<circle cx="154.8" cy="454.1" r="2.4" fill="#b82830" fill-opacity="0.8"/>
<circle cx="154.8" cy="457.0" r="2.4" fill="#b82830" fill-opacity="0.8"/>
<circle cx="154.8" cy="461.8" r="2.4" fill="#3a9a44" fill-opacity="0.8"/>
<circle cx="154.8" cy="467.5" r="2.4" fill="#3a9a44" fill-opacity="0.8"/>
<circle cx="162.0" cy="440.5" r="2.4" fill="#b82830" fill-opacity="0.8"/>
<circle cx="162.0" cy="457.5" r="2.4" fill="#b82830" fill-opacity="0.8"/>
<circle cx="169.2" cy="447.9" r="2.4" fill="#b82830" fill-opacity="0.8"/>
<circle cx="169.2" cy="450.9" r="2.4" fill="#b82830" fill-opacity="0.8"/>
<circle cx="169.2" cy="454.6" r="2.4" fill="#3a9a44" fill-opacity="0.8"/>
<circle cx="175.8" cy="442.5" r="2.4" fill="#b82830" fill-opacity="0.8"/>
<circle cx="175.8" cy="451.3" r="2.4" fill="#b82830" fill-opacity="0.8"/>
<circle cx="182.8" cy="421.9" r="2.4" fill="#b82830" fill-opacity="0.8"/>
<circle cx="182.8" cy="433.5" r="2.4" fill="#3a9a44" fill-opacity="0.8"/>
<circle cx="189.9" cy="427.8" r="2.4" fill="#b82830" fill-opacity="0.8"/>
<circle cx="189.9" cy="435.3" r="2.4" fill="#3a9a44" fill-opacity="0.8"/>
<circle cx="189.9" cy="440.6" r="2.4" fill="#b82830" fill-opacity="0.8"/>
<circle cx="189.9" cy="446.0" r="2.4" fill="#b82830" fill-opacity="0.8"/>
<circle cx="196.9" cy="440.6" r="2.4" fill="#b82830" fill-opacity="0.8"/>
<circle cx="203.9" cy="417.8" r="2.4" fill="#b82830" fill-opacity="0.8"/>
<circle cx="203.9" cy="424.0" r="2.4" fill="#3a9a44" fill-opacity="0.8"/>
<circle cx="203.9" cy="425.8" r="2.4" fill="#b82830" fill-opacity="0.8"/>
<circle cx="203.9" cy="431.7" r="2.4" fill="#b82830" fill-opacity="0.8"/>
<circle cx="203.9" cy="437.0" r="2.4" fill="#b82830" fill-opacity="0.8"/>
<circle cx="217.7" cy="420.0" r="2.4" fill="#b82830" fill-opacity="0.8"/>
<circle cx="224.8" cy="405.3" r="2.4" fill="#b82830" fill-opacity="0.8"/>
<circle cx="224.8" cy="413.5" r="2.4" fill="#b82830" fill-opacity="0.8"/>
<circle cx="224.8" cy="417.8" r="2.4" fill="#b82830" fill-opacity="0.8"/>
<circle cx="232.0" cy="425.7" r="2.4" fill="#b82830" fill-opacity="0.8"/>
<circle cx="238.7" cy="409.7" r="2.4" fill="#b82830" fill-opacity="0.8"/>
<circle cx="245.9" cy="405.3" r="2.4" fill="#b82830" fill-opacity="0.8"/>
<circle cx="245.9" cy="424.0" r="2.4" fill="#b82830" fill-opacity="0.8"/>
<circle cx="259.5" cy="396.5" r="2.4" fill="#b82830" fill-opacity="0.8"/>
<circle cx="259.5" cy="407.6" r="2.4" fill="#b82830" fill-opacity="0.8"/>
<circle cx="266.7" cy="399.3" r="2.4" fill="#b82830" fill-opacity="0.8"/>
<circle cx="274.2" cy="407.6" r="2.4" fill="#b82830" fill-opacity="0.8"/>
<circle cx="280.5" cy="392.3" r="2.4" fill="#b82830" fill-opacity="0.8"/>
<circle cx="288.0" cy="392.3" r="2.4" fill="#b82830" fill-opacity="0.8"/>
<circle cx="432.6" cy="235.7" r="2.4" fill="#3f95f2" fill-opacity="0.8"/>
<circle cx="432.6" cy="281.0" r="2.4" fill="#3f95f2" fill-opacity="0.8"/>
<circle cx="442.2" cy="196.8" r="2.4" fill="#3f95f2" fill-opacity="0.8"/>
<circle cx="442.2" cy="198.0" r="2.4" fill="#3f95f2" fill-opacity="0.8"/>
<circle cx="442.2" cy="210.7" r="2.4" fill="#3f95f2" fill-opacity="0.8"/>
<circle cx="442.2" cy="214.6" r="2.4" fill="#3f95f2" fill-opacity="0.8"/>
<circle cx="442.2" cy="242.7" r="2.4" fill="#3f95f2" fill-opacity="0.8"/>
<circle cx="451.5" cy="186.2" r="2.4" fill="#3f95f2" fill-opacity="0.8"/>
<circle cx="451.5" cy="194.0" r="2.4" fill="#3f95f2" fill-opacity="0.8"/>
<circle cx="451.5" cy="196.2" r="2.4" fill="#3f95f2" fill-opacity="0.8"/>
<circle cx="451.5" cy="198.4" r="2.4" fill="#3f95f2" fill-opacity="0.8"/>
<circle cx="451.5" cy="214.2" r="2.4" fill="#3f95f2" fill-opacity="0.8"/>
<circle cx="451.5" cy="219.8" r="2.4" fill="#3f95f2" fill-opacity="0.8"/>
<circle cx="451.5" cy="222.8" r="2.4" fill="#3f95f2" fill-opacity="0.8"/>
<circle cx="451.5" cy="225.7" r="2.4" fill="#3f95f2" fill-opacity="0.8"/>
<circle cx="451.5" cy="258.9" r="2.4" fill="#3f95f2" fill-opacity="0.8"/>
<circle cx="461.2" cy="159.0" r="2.4" fill="#3f95f2" fill-opacity="0.8"/>
<circle cx="461.2" cy="171.0" r="2.4" fill="#3f95f2" fill-opacity="0.8"/>
<circle cx="461.2" cy="172.8" r="2.4" fill="#3f95f2" fill-opacity="0.8"/>
<circle cx="461.2" cy="182.4" r="2.4" fill="#3f95f2" fill-opacity="0.8"/>
<circle cx="461.2" cy="183.2" r="2.4" fill="#3f95f2" fill-opacity="0.8"/>
<circle cx="461.2" cy="189.1" r="2.4" fill="#f57d4f" fill-opacity="0.8"/>
<circle cx="461.2" cy="198.0" r="2.4" fill="#3f95f2" fill-opacity="0.8"/>
<circle cx="461.2" cy="203.3" r="2.4" fill="#3f95f2" fill-opacity="0.8"/>
<circle cx="461.2" cy="217.2" r="2.4" fill="#3f95f2" fill-opacity="0.8"/>
<circle cx="470.9" cy="130.4" r="2.4" fill="#3f95f2" fill-opacity="0.8"/>
<circle cx="470.9" cy="142.2" r="2.4" fill="#f57d4f" fill-opacity="0.8"/>
<circle cx="470.9" cy="169.7" r="2.4" fill="#3f95f2" fill-opacity="0.8"/>
<circle cx="470.9" cy="182.7" r="2.4" fill="#3f95f2" fill-opacity="0.8"/>
<circle cx="470.9" cy="189.0" r="2.4" fill="#f57d4f" fill-opacity="0.8"/>
<circle cx="470.9" cy="198.4" r="2.4" fill="#3f95f2" fill-opacity="0.8"/>
<circle cx="470.9" cy="217.2" r="2.4" fill="#3f95f2" fill-opacity="0.8"/>
<circle cx="480.0" cy="115.7" r="2.4" fill="#3f95f2" fill-opacity="0.8"/>
<circle cx="480.0" cy="123.5" r="2.4" fill="#f57d4f" fill-opacity="0.8"/>
<circle cx="480.0" cy="134.5" r="2.4" fill="#3f95f2" fill-opacity="0.8"/>
<circle cx="480.0" cy="138.9" r="2.4" fill="#3f95f2" fill-opacity="0.8"/>
<circle cx="480.0" cy="140.6" r="2.4" fill="#3f95f2" fill-opacity="0.8"/>
<circle cx="480.0" cy="147.3" r="2.4" fill="#f57d4f" fill-opacity="0.8"/>
<circle cx="480.0" cy="153.6" r="2.4" fill="#3f95f2" fill-opacity="0.8"/>
<circle cx="480.0" cy="155.6" r="2.4" fill="#3f95f2" fill-opacity="0.8"/>
<circle cx="480.0" cy="171.0" r="2.4" fill="#3f95f2" fill-opacity="0.8"/>
<circle cx="480.0" cy="173.7" r="2.4" fill="#3f95f2" fill-opacity="0.8"/>
<circle cx="489.6" cy="121.9" r="2.4" fill="#3f95f2" fill-opacity="0.8"/>
<circle cx="489.6" cy="127.2" r="2.4" fill="#3f95f2" fill-opacity="0.8"/>
<circle cx="489.6" cy="129.5" r="2.4" fill="#3f95f2" fill-opacity="0.8"/>
<circle cx="489.6" cy="135.0" r="2.4" fill="#3f95f2" fill-opacity="0.8"/>
<circle cx="489.6" cy="136.0" r="2.4" fill="#3f95f2" fill-opacity="0.8"/>
<circle cx="489.6" cy="140.6" r="2.4" fill="#3f95f2" fill-opacity="0.8"/>
<circle cx="489.6" cy="151.0" r="2.4" fill="#3f95f2" fill-opacity="0.8"/>
<circle cx="489.6" cy="152.0" r="2.4" fill="#f57d4f" fill-opacity="0.8"/>
<circle cx="489.6" cy="159.6" r="2.4" fill="#3f95f2" fill-opacity="0.8"/>
<circle cx="489.6" cy="164.3" r="2.4" fill="#3f95f2" fill-opacity="0.8"/>
<circle cx="489.6" cy="168.7" r="2.4" fill="#f57d4f" fill-opacity="0.8"/>
<circle cx="499.1" cy="96.5" r="2.4" fill="#3f95f2" fill-opacity="0.8"/>
<circle cx="499.1" cy="112.5" r="2.4" fill="#3f95f2" fill-opacity="0.8"/>
<circle cx="499.1" cy="127.4" r="2.4" fill="#3f95f2" fill-opacity="0.8"/>
<circle cx="499.1" cy="128.2" r="2.4" fill="#3f95f2" fill-opacity="0.8"/>
<circle cx="499.1" cy="137.3" r="2.4" fill="#3f95f2" fill-opacity="0.8"/>
<circle cx="499.1" cy="138.9" r="2.4" fill="#3f95f2" fill-opacity="0.8"/>
<circle cx="499.1" cy="141.6" r="2.4" fill="#f57d4f" fill-opacity="0.8"/>
<circle cx="499.1" cy="172.0" r="2.4" fill="#3f95f2" fill-opacity="0.8"/>
<circle cx="499.1" cy="185.3" r="2.4" fill="#3f95f2" fill-opacity="0.8"/>
<circle cx="499.1" cy="187.1" r="2.4" fill="#3f95f2" fill-opacity="0.8"/>
<circle cx="499.1" cy="193.4" r="2.4" fill="#3f95f2" fill-opacity="0.8"/>
<circle cx="508.6" cy="102.1" r="2.4" fill="#3f95f2" fill-opacity="0.8"/>
<circle cx="508.6" cy="120.8" r="2.4" fill="#3f95f2" fill-opacity="0.8"/>
<circle cx="508.6" cy="123.5" r="2.4" fill="#f57d4f" fill-opacity="0.8"/>
<circle cx="508.6" cy="132.7" r="2.4" fill="#3f95f2" fill-opacity="0.8"/>
<circle cx="508.6" cy="137.5" r="2.4" fill="#3f95f2" fill-opacity="0.8"/>
<circle cx="518.1" cy="80.4" r="2.4" fill="#3f95f2" fill-opacity="0.8"/>
<circle cx="518.1" cy="84.1" r="2.4" fill="#3f95f2" fill-opacity="0.8"/>
<circle cx="518.1" cy="93.0" r="2.4" fill="#3f95f2" fill-opacity="0.8"/>
<circle cx="518.1" cy="94.0" r="2.4" fill="#3f95f2" fill-opacity="0.8"/>
<circle cx="518.1" cy="103.5" r="2.4" fill="#3f95f2" fill-opacity="0.8"/>
<circle cx="518.1" cy="106.8" r="2.4" fill="#f57d4f" fill-opacity="0.8"/>
<circle cx="518.1" cy="111.8" r="2.4" fill="#3f95f2" fill-opacity="0.8"/>
<circle cx="518.1" cy="114.2" r="2.4" fill="#3f95f2" fill-opacity="0.8"/>
<circle cx="518.1" cy="116.6" r="2.4" fill="#3f95f2" fill-opacity="0.8"/>
<circle cx="518.1" cy="119.6" r="2.4" fill="#3f95f2" fill-opacity="0.8"/>
<circle cx="518.1" cy="129.5" r="2.4" fill="#3f95f2" fill-opacity="0.8"/>
<circle cx="527.7" cy="92.8" r="2.4" fill="#f57d4f" fill-opacity="0.8"/>
<circle cx="527.7" cy="98.1" r="2.4" fill="#f57d4f" fill-opacity="0.8"/>
<circle cx="527.7" cy="102.1" r="2.4" fill="#3f95f2" fill-opacity="0.8"/>
<circle cx="527.7" cy="105.9" r="2.4" fill="#f57d4f" fill-opacity="0.8"/>
<circle cx="527.7" cy="110.0" r="2.4" fill="#f57d4f" fill-opacity="0.8"/>
<circle cx="527.7" cy="112.6" r="2.4" fill="#3f95f2" fill-opacity="0.8"/>
<circle cx="527.7" cy="115.6" r="2.4" fill="#3f95f2" fill-opacity="0.8"/>
<circle cx="527.7" cy="118.6" r="2.4" fill="#3f95f2" fill-opacity="0.8"/>
<circle cx="527.7" cy="125.7" r="2.4" fill="#3f95f2" fill-opacity="0.8"/>
<circle cx="537.2" cy="85.8" r="2.4" fill="#3f95f2" fill-opacity="0.8"/>
<circle cx="537.2" cy="88.1" r="2.4" fill="#3f95f2" fill-opacity="0.8"/>
<circle cx="537.2" cy="92.8" r="2.4" fill="#3f95f2" fill-opacity="0.8"/>
<circle cx="537.2" cy="96.1" r="2.4" fill="#3f95f2" fill-opacity="0.8"/>
<circle cx="537.2" cy="101.1" r="2.4" fill="#3f95f2" fill-opacity="0.8"/>
<circle cx="537.2" cy="104.1" r="2.4" fill="#f57d4f" fill-opacity="0.8"/>
<circle cx="537.2" cy="108.2" r="2.4" fill="#f57d4f" fill-opacity="0.8"/>
<circle cx="537.2" cy="119.2" r="2.4" fill="#f57d4f" fill-opacity="0.8"/>
<circle cx="546.7" cy="52.3" r="2.4" fill="#3f95f2" fill-opacity="0.8"/>
<circle cx="546.7" cy="89.0" r="2.4" fill="#3f95f2" fill-opacity="0.8"/>
<circle cx="546.7" cy="109.5" r="2.4" fill="#3f95f2" fill-opacity="0.8"/>
<circle cx="546.7" cy="111.5" r="2.4" fill="#3f95f2" fill-opacity="0.8"/>
<circle cx="556.4" cy="85.0" r="2.4" fill="#f57d4f" fill-opacity="0.8"/>
<circle cx="556.4" cy="86.7" r="2.4" fill="#f57d4f" fill-opacity="0.8"/>
<circle cx="556.4" cy="98.4" r="2.4" fill="#3f95f2" fill-opacity="0.8"/>
<circle cx="556.4" cy="103.6" r="2.4" fill="#3f95f2" fill-opacity="0.8"/>
<circle cx="556.4" cy="105.4" r="2.4" fill="#3f95f2" fill-opacity="0.8"/>
<circle cx="565.9" cy="79.7" r="2.4" fill="#3f95f2" fill-opacity="0.8"/>
<circle cx="565.9" cy="81.5" r="2.4" fill="#3f95f2" fill-opacity="0.8"/>
<circle cx="565.9" cy="87.9" r="2.4" fill="#f57d4f" fill-opacity="0.8"/>
<circle cx="565.9" cy="99.0" r="2.4" fill="#3f95f2" fill-opacity="0.8"/>
<circle cx="565.9" cy="102.5" r="2.4" fill="#3f95f2" fill-opacity="0.8"/>
<circle cx="575.1" cy="71.3" r="2.4" fill="#3f95f2" fill-opacity="0.8"/>
<circle cx="575.1" cy="75.0" r="2.4" fill="#3f95f2" fill-opacity="0.8"/>
<circle cx="584.7" cy="61.3" r="2.4" fill="#f57d4f" fill-opacity="0.8"/>
<circle cx="584.7" cy="76.2" r="2.4" fill="#f57d4f" fill-opacity="0.8"/>
<circle cx="584.7" cy="80.9" r="2.4" fill="#f57d4f" fill-opacity="0.8"/>
<circle cx="594.3" cy="62.9" r="2.4" fill="#3f95f2" fill-opacity="0.8"/>
<circle cx="594.3" cy="63.8" r="2.4" fill="#f57d4f" fill-opacity="0.8"/>
<circle cx="594.3" cy="71.5" r="2.4" fill="#f57d4f" fill-opacity="0.8"/>
<circle cx="594.3" cy="74.5" r="2.4" fill="#f57d4f" fill-opacity="0.8"/>
<circle cx="594.3" cy="83.0" r="2.4" fill="#3f95f2" fill-opacity="0.8"/>
<circle cx="603.7" cy="65.4" r="2.4" fill="#f57d4f" fill-opacity="0.8"/>
<circle cx="603.7" cy="71.2" r="2.4" fill="#3f95f2" fill-opacity="0.8"/>
<circle cx="613.1" cy="46.5" r="2.4" fill="#3f95f2" fill-opacity="0.8"/>
<circle cx="613.1" cy="54.0" r="2.4" fill="#3f95f2" fill-opacity="0.8"/>
<circle cx="613.1" cy="56.8" r="2.4" fill="#f57d4f" fill-opacity="0.8"/>
<circle cx="613.1" cy="67.5" r="2.4" fill="#f57d4f" fill-opacity="0.8"/>
<circle cx="632.2" cy="51.7" r="2.4" fill="#f57d4f" fill-opacity="0.8"/>
<circle cx="651.4" cy="41.9" r="2.4" fill="#f57d4f" fill-opacity="0.8"/>
<circle cx="670.2" cy="46.3" r="2.4" fill="#f57d4f" fill-opacity="0.8"/>
<circle cx="433.0" cy="391.6" r="2.4" fill="#3f95f2" fill-opacity="0.8"/>
<circle cx="433.0" cy="593.0" r="2.4" fill="#3f95f2" fill-opacity="0.8"/>
<circle cx="433.0" cy="613.0" r="2.4" fill="#3f95f2" fill-opacity="0.8"/>
<circle cx="433.0" cy="624.3" r="2.4" fill="#3f95f2" fill-opacity="0.8"/>
<circle cx="433.0" cy="628.6" r="2.4" fill="#f57d4f" fill-opacity="0.8"/>
<circle cx="443.0" cy="594.1" r="2.4" fill="#3f95f2" fill-opacity="0.8"/>
<circle cx="443.0" cy="599.9" r="2.4" fill="#3f95f2" fill-opacity="0.8"/>
<circle cx="443.0" cy="601.8" r="2.4" fill="#3f95f2" fill-opacity="0.8"/>
<circle cx="443.0" cy="606.9" r="2.4" fill="#3f95f2" fill-opacity="0.8"/>
<circle cx="443.0" cy="615.4" r="2.4" fill="#3f95f2" fill-opacity="0.8"/>
<circle cx="453.1" cy="589.5" r="2.4" fill="#f57d4f" fill-opacity="0.8"/>
<circle cx="453.1" cy="594.5" r="2.4" fill="#3f95f2" fill-opacity="0.8"/>
<circle cx="453.1" cy="602.0" r="2.4" fill="#3f95f2" fill-opacity="0.8"/>
<circle cx="453.1" cy="608.8" r="2.4" fill="#f57d4f" fill-opacity="0.8"/>
<circle cx="453.1" cy="615.0" r="2.4" fill="#3f95f2" fill-opacity="0.8"/>
<circle cx="453.1" cy="615.8" r="2.4" fill="#f57d4f" fill-opacity="0.8"/>
<circle cx="462.7" cy="582.0" r="2.4" fill="#3f95f2" fill-opacity="0.8"/>
<circle cx="462.7" cy="590.0" r="2.4" fill="#f57d4f" fill-opacity="0.8"/>
<circle cx="462.7" cy="591.6" r="2.4" fill="#f57d4f" fill-opacity="0.8"/>
<circle cx="462.7" cy="594.5" r="2.4" fill="#3f95f2" fill-opacity="0.8"/>
<circle cx="462.7" cy="603.9" r="2.4" fill="#3f95f2" fill-opacity="0.8"/>
<circle cx="462.7" cy="615.4" r="2.4" fill="#3f95f2" fill-opacity="0.8"/>
<circle cx="472.7" cy="577.1" r="2.4" fill="#3f95f2" fill-opacity="0.8"/>
<circle cx="472.7" cy="579.8" r="2.4" fill="#3f95f2" fill-opacity="0.8"/>
<circle cx="472.7" cy="585.9" r="2.4" fill="#3f95f2" fill-opacity="0.8"/>
<circle cx="472.7" cy="586.7" r="2.4" fill="#3f95f2" fill-opacity="0.8"/>
<circle cx="472.7" cy="595.9" r="2.4" fill="#3f95f2" fill-opacity="0.8"/>
<circle cx="472.7" cy="597.0" r="2.4" fill="#3f95f2" fill-opacity="0.8"/>
<circle cx="472.7" cy="608.8" r="2.4" fill="#f57d4f" fill-opacity="0.8"/>
<circle cx="482.4" cy="572.4" r="2.4" fill="#3f95f2" fill-opacity="0.8"/>
<circle cx="482.4" cy="578.5" r="2.4" fill="#f57d4f" fill-opacity="0.8"/>
<circle cx="482.4" cy="583.2" r="2.4" fill="#3f95f2" fill-opacity="0.8"/>
<circle cx="482.4" cy="583.9" r="2.4" fill="#f57d4f" fill-opacity="0.8"/>
<circle cx="482.4" cy="595.6" r="2.4" fill="#f57d4f" fill-opacity="0.8"/>
<circle cx="492.2" cy="581.6" r="2.4" fill="#3f95f2" fill-opacity="0.8"/>
<circle cx="492.2" cy="584.3" r="2.4" fill="#3f95f2" fill-opacity="0.8"/>
<circle cx="492.2" cy="586.4" r="2.4" fill="#3f95f2" fill-opacity="0.8"/>
<circle cx="492.2" cy="587.9" r="2.4" fill="#3f95f2" fill-opacity="0.8"/>
<circle cx="492.2" cy="592.2" r="2.4" fill="#3f95f2" fill-opacity="0.8"/>
<circle cx="492.2" cy="595.6" r="2.4" fill="#3f95f2" fill-opacity="0.8"/>
<circle cx="502.1" cy="570.0" r="2.4" fill="#3f95f2" fill-opacity="0.8"/>
<circle cx="502.1" cy="572.1" r="2.4" fill="#3f95f2" fill-opacity="0.8"/>
<circle cx="502.1" cy="573.6" r="2.4" fill="#3f95f2" fill-opacity="0.8"/>
<circle cx="502.1" cy="578.7" r="2.4" fill="#3f95f2" fill-opacity="0.8"/>
<circle cx="502.1" cy="577.5" r="2.4" fill="#f57d4f" fill-opacity="0.8"/>
<circle cx="502.1" cy="582.8" r="2.4" fill="#f57d4f" fill-opacity="0.8"/>
<circle cx="502.1" cy="591.8" r="2.4" fill="#3f95f2" fill-opacity="0.8"/>
<circle cx="512.0" cy="579.2" r="2.4" fill="#3f95f2" fill-opacity="0.8"/>
<circle cx="512.0" cy="577.7" r="2.4" fill="#f57d4f" fill-opacity="0.8"/>
<circle cx="512.0" cy="585.4" r="2.4" fill="#3f95f2" fill-opacity="0.8"/>
<circle cx="512.0" cy="597.9" r="2.4" fill="#3f95f2" fill-opacity="0.8"/>
<circle cx="521.7" cy="576.1" r="2.4" fill="#3f95f2" fill-opacity="0.8"/>
<circle cx="521.7" cy="576.9" r="2.4" fill="#3f95f2" fill-opacity="0.8"/>
<circle cx="521.7" cy="587.1" r="2.4" fill="#f57d4f" fill-opacity="0.8"/>
<circle cx="531.5" cy="569.3" r="2.4" fill="#3f95f2" fill-opacity="0.8"/>
<circle cx="531.5" cy="574.2" r="2.4" fill="#3f95f2" fill-opacity="0.8"/>
<circle cx="531.5" cy="575.0" r="2.4" fill="#3f95f2" fill-opacity="0.8"/>
<circle cx="531.5" cy="588.9" r="2.4" fill="#3f95f2" fill-opacity="0.8"/>
<circle cx="541.3" cy="567.9" r="2.4" fill="#f57d4f" fill-opacity="0.8"/>
<circle cx="541.3" cy="576.0" r="2.4" fill="#f57d4f" fill-opacity="0.8"/>
<circle cx="551.3" cy="566.1" r="2.4" fill="#f57d4f" fill-opacity="0.8"/>
<circle cx="551.3" cy="567.6" r="2.4" fill="#f57d4f" fill-opacity="0.8"/>
<circle cx="551.3" cy="575.8" r="2.4" fill="#3f95f2" fill-opacity="0.8"/>
<circle cx="561.4" cy="570.2" r="2.4" fill="#3f95f2" fill-opacity="0.8"/>
<circle cx="561.4" cy="571.0" r="2.4" fill="#f57d4f" fill-opacity="0.8"/>
<circle cx="571.0" cy="565.3" r="2.4" fill="#3f95f2" fill-opacity="0.8"/>
<circle cx="571.0" cy="569.6" r="2.4" fill="#3f95f2" fill-opacity="0.8"/>
<circle cx="581.0" cy="559.2" r="2.4" fill="#3f95f2" fill-opacity="0.8"/>
<circle cx="600.9" cy="570.2" r="2.4" fill="#3f95f2" fill-opacity="0.8"/>
<circle cx="610.5" cy="557.1" r="2.4" fill="#3f95f2" fill-opacity="0.8"/>
<circle cx="610.5" cy="561.0" r="2.4" fill="#3f95f2" fill-opacity="0.8"/>
<circle cx="610.5" cy="563.4" r="2.4" fill="#3f95f2" fill-opacity="0.8"/>
<circle cx="620.2" cy="560.8" r="2.4" fill="#3f95f2" fill-opacity="0.8"/>
<circle cx="629.8" cy="551.0" r="2.4" fill="#3f95f2" fill-opacity="0.8"/>
<circle cx="629.8" cy="551.4" r="2.4" fill="#3f95f2" fill-opacity="0.8"/>
<circle cx="639.7" cy="554.5" r="2.4" fill="#3f95f2" fill-opacity="0.8"/>
<circle cx="639.7" cy="556.8" r="2.4" fill="#3f95f2" fill-opacity="0.8"/>
<circle cx="639.7" cy="559.7" r="2.4" fill="#3f95f2" fill-opacity="0.8"/>
<circle cx="649.9" cy="554.5" r="2.4" fill="#3f95f2" fill-opacity="0.8"/>
<circle cx="649.9" cy="557.1" r="2.4" fill="#3f95f2" fill-opacity="0.8"/>
<circle cx="669.6" cy="553.4" r="2.4" fill="#3f95f2" fill-opacity="0.8"/>
<circle cx="669.6" cy="551.8" r="2.4" fill="#f57d4f" fill-opacity="0.8"/>
</g>
</svg>
</body></html>
